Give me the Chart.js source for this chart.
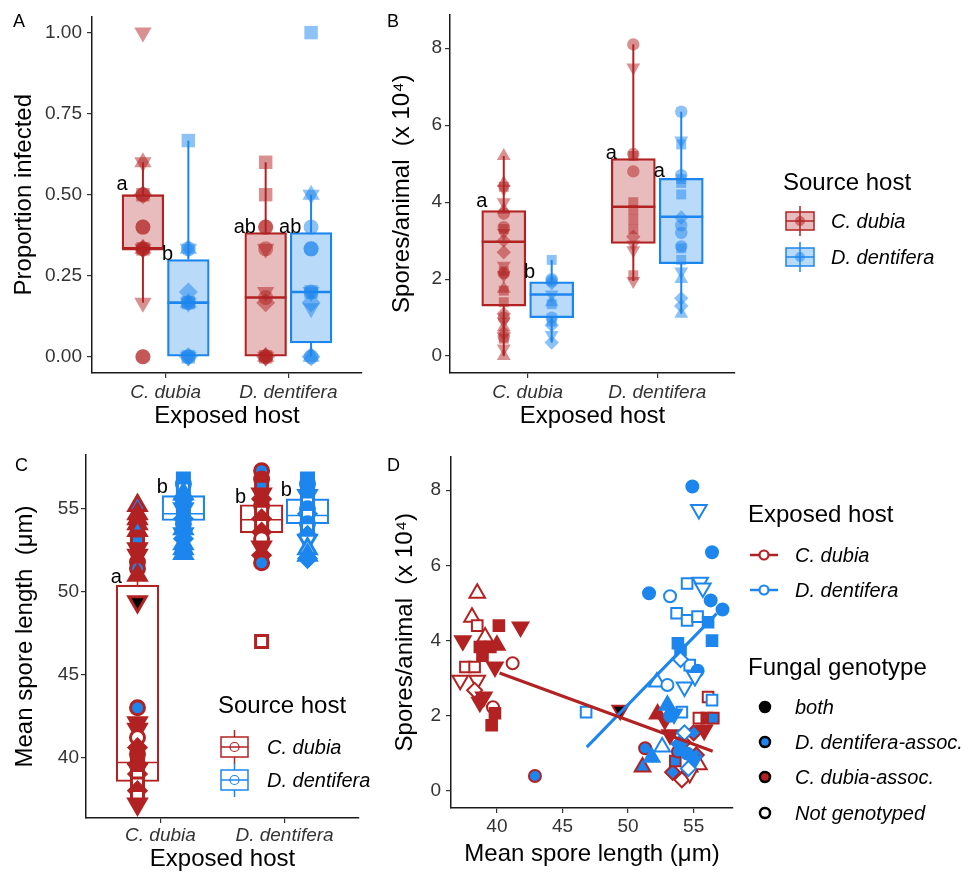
<!DOCTYPE html>
<html><head><meta charset="utf-8">
<script src="https://cdn.jsdelivr.net/npm/chart.js@4.4.1/dist/chart.umd.min.js"></script>
<style>
html,body{margin:0;padding:0;background:#fff;}
#wrap{position:relative;width:968px;height:876px;overflow:hidden;background:#fff;}
canvas{position:absolute;}
#ov{position:absolute;left:0;top:0;pointer-events:none;}
</style></head><body>
<div id="wrap">
<canvas id="cA" width="372" height="440" style="left:0;top:0"></canvas>
<canvas id="cB" width="372" height="440" style="left:372px;top:0"></canvas>
<canvas id="cC" width="372" height="436" style="left:0;top:440px"></canvas>
<canvas id="cD" width="372" height="436" style="left:372px;top:440px"></canvas>
<svg id="ov" width="968" height="876" font-family="Liberation Sans, Arial, Helvetica, sans-serif">
  <text x="13" y="27" font-size="18">A</text>
  <text x="387" y="27" font-size="18">B</text>
  <text x="15" y="471" font-size="18">C</text>
  <text x="387" y="471" font-size="18">D</text>

  <!-- Source host legend (A/B) -->
  <text x="783" y="190" font-size="24">Source host</text>
  <line x1="800" y1="206" x2="800" y2="236" stroke="#B22222" stroke-width="1.5"/>
  <rect x="786" y="212" width="28" height="18" fill="rgba(178,34,34,0.3)" stroke="#B22222" stroke-width="1.5"/>
  <line x1="786" y1="221" x2="814" y2="221" stroke="#B22222" stroke-width="1.5"/>
  <circle cx="800" cy="221" r="5" fill="rgba(178,34,34,0.55)"/>
  <text x="831" y="228" font-size="20" font-style="italic">C. dubia</text>
  <line x1="800" y1="242" x2="800" y2="272" stroke="#1C86EE" stroke-width="1.5"/>
  <rect x="786" y="248" width="28" height="18" fill="rgba(28,134,238,0.3)" stroke="#1C86EE" stroke-width="1.5"/>
  <line x1="786" y1="257" x2="814" y2="257" stroke="#1C86EE" stroke-width="1.5"/>
  <circle cx="800" cy="257" r="5" fill="rgba(28,134,238,0.55)"/>
  <text x="831" y="264" font-size="20" font-style="italic">D. dentifera</text>

  <!-- Source host legend (C) -->
  <text x="218" y="713" font-size="24">Source host</text>
  <line x1="234.5" y1="730" x2="234.5" y2="764" stroke="#B22222" stroke-width="1.5"/>
  <rect x="221" y="737" width="27" height="20" fill="#fff" stroke="#B22222" stroke-width="1.5"/>
  <line x1="221" y1="747" x2="248" y2="747" stroke="#B22222" stroke-width="1.5"/>
  <circle cx="234.5" cy="747" r="4.5" fill="none" stroke="#B22222" stroke-width="1.2"/>
  <text x="267" y="754" font-size="20" font-style="italic">C. dubia</text>
  <line x1="234.5" y1="763" x2="234.5" y2="797" stroke="#1C86EE" stroke-width="1.5"/>
  <rect x="221" y="770" width="27" height="20" fill="#fff" stroke="#1C86EE" stroke-width="1.5"/>
  <line x1="221" y1="780" x2="248" y2="780" stroke="#1C86EE" stroke-width="1.5"/>
  <circle cx="234.5" cy="780" r="4.5" fill="none" stroke="#1C86EE" stroke-width="1.2"/>
  <text x="267" y="787" font-size="20" font-style="italic">D. dentifera</text>

  <!-- Exposed host legend (D) -->
  <text x="748" y="522" font-size="24">Exposed host</text>
  <line x1="750" y1="555" x2="778" y2="555" stroke="#B22222" stroke-width="2.5"/>
  <circle cx="764" cy="555" r="4.5" fill="#fff" stroke="#B22222" stroke-width="2.2"/>
  <text x="795" y="562" font-size="20" font-style="italic">C. dubia</text>
  <line x1="750" y1="590" x2="778" y2="590" stroke="#1C86EE" stroke-width="2.5"/>
  <circle cx="764" cy="590" r="4.5" fill="#fff" stroke="#1C86EE" stroke-width="2.2"/>
  <text x="795" y="597" font-size="20" font-style="italic">D. dentifera</text>

  <!-- Fungal genotype legend (D) -->
  <text x="748" y="675" font-size="24">Fungal genotype</text>
  <circle cx="765" cy="707" r="5" fill="#000" stroke="#000" stroke-width="2.5"/>
  <text x="795" y="714" font-size="20" font-style="italic">both</text>
  <circle cx="765" cy="742" r="5" fill="#1C86EE" stroke="#000" stroke-width="2.5"/>
  <text x="795" y="749" font-size="20" font-style="italic">D. dentifera-assoc.</text>
  <circle cx="765" cy="777" r="5" fill="#B22222" stroke="#000" stroke-width="2.5"/>
  <text x="795" y="784" font-size="20" font-style="italic">C. dubia-assoc.</text>
  <circle cx="765" cy="813" r="5" fill="#fff" stroke="#000" stroke-width="2.5"/>
  <text x="795" y="820" font-size="20" font-style="italic">Not genotyped</text>
</svg>
</div>
<script>
// ================= DATA =================
const exposedHosts = ['C. dubia', 'D. dentifera'];

// Panel A: proportion infected. Box stats [min, q1, median, q3, max] per exposed host
const propBoxSrcCd = [[0.167, 0.333, 0.333, 0.5, 0.6], [0, 0, 0.183, 0.383, 0.6]];
const propBoxSrcDd = [[0, 0, 0.167, 0.3, 0.667], [0, 0.043, 0.2, 0.383, 0.5]];
// points: exposed host / source host
const propCdCd = [1.0, 0.6, 0.6, 0.5, 0.5, 0.5, 0.4, 0.4, 0.333, 0.333, 0.333, 0.333, 0.333, 0.167, 0, 0];
const propCdCdShape = ['v','t','v','c','s','d','c','c','s','c','d','v','t','v','c','c'];
const propCdDd = [0.667, 0.333, 0.333, 0.333, 0.2, 0.167, 0.167, 0.167, 0.167, 0, 0, 0, 0];
const propCdDdShape = ['s','v','c','t','d','c','s','v','t','c','d','v','s'];
const propDdCd = [0.6, 0.5, 0.4, 0.4, 0.333, 0.333, 0.2, 0.183, 0.167, 0, 0, 0, 0, 0];
const propDdCdShape = ['s','s','c','c','v','c','v','c','d','v','t','c','s','d'];
const propDdDd = [1.0, 0.5, 0.5, 0.4, 0.333, 0.333, 0.2, 0.2, 0.2, 0.167, 0.15, 0, 0, 0];
const propDdDdShape = ['s','t','v','c','c','c','c','s','v','d','v','d','t','c'];
const lettersA = ['a', 'b', 'ab', 'ab'];
const letterYA = [0.53, 0.315, 0.40, 0.40];

// Panel B: spores/animal (x 10^4)
const sporeBoxSrcCd = [[0, 1.3, 2.97, 3.78, 5.2], [1.95, 2.93, 3.88, 5.13, 8.1]];
const sporeBoxSrcDd = [[0.35, 1.0, 1.6, 1.93, 2.5], [1.1, 2.4, 3.62, 4.62, 6.35]];
const sporeCdCd = [5.2, 4.5, 4.4, 4.35, 4.0, 3.8, 3.7, 3.35, 3.3, 3.2, 3.0, 2.7, 2.35, 2.2, 2.15, 2.1, 1.75, 1.7, 1.4, 1.1, 1.0, 0.9, 0.75, 0.6, 0.5, 0.45, 0.2, 0];
const sporeCdCdShape = ['t','t','s','v','v','t','c','c','s','v','d','d','v','s','c','v','t','s','s','d','c','v','t','d','c','s','v','t'];
const sporeCdDd = [2.5, 2.0, 1.95, 1.9, 1.6, 1.4, 1.35, 1.0, 0.9, 0.8, 0.55, 0.35];
const sporeCdDdShape = ['s','c','c','d','v','t','s','c','s','d','v','d'];
const sporeDdCd = [8.1, 7.5, 5.25, 5.2, 4.8, 4.0, 3.8, 3.55, 3.3, 3.1, 2.9, 2.75, 2.1, 1.95];
const sporeDdCdShape = ['c','v','c','s','c','s','s','s','s','d','v','v','s','v'];
const sporeDdDd = [6.35, 5.6, 5.5, 4.7, 4.6, 4.5, 4.2, 3.6, 3.4, 3.2, 2.85, 2.8, 2.5, 2.2, 2.0, 1.5, 1.3, 1.1];
const sporeDdDdShape = ['c','v','s','c','s','s','s','d','c','c','c','s','s','v','t','d','d','t'];
const lettersB = ['a', 'b', 'a', 'a'];
const letterYB = [4.03, 2.17, 5.26, 4.8];

// Panel C: mean spore length (um); genotype: b both, d D.dentifera-assoc, c C.dubia-assoc, n not genotyped
const lenBoxSrcCd = [[37.2, 38.55, 39.7, 50.4, 55.5], [51.75, 53.55, 54.35, 55.25, 57.3]];
const lenBoxSrcDd = [[52.3, 54.3, 54.7, 55.8, 56.8], [52.0, 54.1, 54.6, 55.6, 56.8]];
const lenCdCd = [55.2, 54.7, 54.4, 54.1, 53.7, 53.3, 53.0, 52.6, 52.2, 51.8, 51.4, 51.0, 49.4, 43.0, 42.1, 41.7, 41.2, 40.6, 40.2, 39.9, 39.6, 39.3, 39.0, 38.85, 38.4, 38.0, 37.65, 37.2];
const lenCdCdShape = ['t','t','t','t','t','s','s','v','v','c','c','t','v','c','v','v','c','d','c','s','d','v','d','s','s','d','s','v'];
const lenCdCdGeno  = ['d','c','c','c','d','c','d','c','c','c','d','c','b','d','c','c','n','c','c','c','c','c','c','n','n','c','n','c'];
const lenCdDd = [56.8, 56.5, 56.2, 55.9, 55.6, 55.3, 55.0, 54.7, 54.4, 54.1, 53.8, 53.5, 53.2, 52.9, 52.6, 52.3];
const lenCdDdShape = ['s','c','s','t','d','c','v','s','d','c','t','v','d','t','t','t'];
const lenCdDdGeno  = ['d','d','n','d','d','d','d','d','d','d','d','d','d','d','d','d'];
const lenDdCd = [57.3, 56.8, 56.3, 55.9, 55.6, 55.2, 54.8, 54.4, 54.0, 53.6, 53.2, 52.7, 52.2, 51.75, 47.0];
const lenDdCdShape = ['c','c','s','v','d','c','s','d','s','d','c','v','d','c','s'];
const lenDdCdGeno  = ['d','c','d','c','c','c','n','c','n','c','n','c','c','d','n'];
const lenDdDd = [56.8, 56.5, 56.1, 55.8, 55.35, 55.0, 54.7, 54.6, 54.1, 53.8, 53.4, 53.1, 52.6, 52.2, 52.0];
const lenDdDdShape = ['s','c','s','v','s','c','d','s','c','s','d','v','t','t','d'];
const lenDdDdGeno  = ['d','d','d','d','n','d','d','n','d','n','d','n','n','d','d'];
const lettersC = ['a', 'b', 'b', 'b'];
const letterYC = [50.85, 56.3, 55.7, 56.1];

// Panel D: spores vs mean spore length, by exposed host
const dLenCd = [38.5,38.1,38.5,40.15,41.8,37.4,39.1,38.7,39.5,40.0,37.6,38.3,37.2,38.5,39.85,41.2,38.3,38.7,39.7,39.85,39.6,38.9,39.0,42.9,49.4,56.1,52.25,55.4,56.0,56.5,55.8,51.3,51.1,53.4,54.1,54.7,55.2,54.7,53.2,53.6,54.2,55.4,52.8,53.8,55.0];
const dSporeCd = [5.26,4.62,4.4,4.4,4.36,4.0,4.1,3.83,3.83,3.88,3.3,3.3,2.95,2.95,3.3,3.4,2.68,2.36,2.23,2.07,1.75,3.6,2.5,0.4,2.15,2.5,2.05,1.94,1.94,1.94,1.62,1.14,0.64,0.5,0.3,0.64,0.96,0.47,1.5,0.8,1.3,0.7,1.9,1.05,1.55];
const dShapeCd = ['t','t','s','s','v','v','t','s','s','t','s','s','v','v','v','c','d','v','c','s','s','s','v','c','v','s','t','s','s','s','v','c','t','d','d','t','d','v','v','s','d','t','v','c','d'];
const dGenoCd  = ['n','n','n','c','c','c','n','c','c','c','n','n','n','n','c','n','n','c','n','c','c','c','c','d','b','n','c','n','c','d','c','d','d','d','n','c','d','n','c','d','n','n','c','d','d'];
const dLenDd = [54.9,55.4,56.4,54.5,55.5,55.7,51.6,53.2,56.3,57.2,53.7,54.5,55.3,56.1,56.4,53.8,54.0,54.7,55.3,55.1,46.8,52.2,53.0,54.3,54.0,56.4,53.0,54.1,53.2,52.6,51.8,54.3,53.9,54.5,55.0,53.5,54.6];
const dSporeDd = [8.1,7.49,6.35,5.52,5.55,5.4,5.26,5.18,5.07,4.83,4.73,4.54,4.64,4.49,4.0,3.93,3.75,3.35,3.2,3.05,2.1,2.9,2.82,2.77,3.5,2.42,2.28,2.1,2.0,1.17,0.9,1.55,1.25,1.0,0.8,2.05,0.6];
const dShapeDd = ['c','v','c','s','v','v','c','c','c','c','s','s','s','s','s','s','s','s','c','v','s','t','c','v','d','s','t','s','c','t','t','d','d','c','v','v','d'];
const dGenoDd  = ['d','n','d','n','n','n','d','n','d','d','n','n','n','d','d','d','d','n','d','n','n','n','n','n','n','n','d','n','d','n','d','n','d','d','d','d','n'];
// fitted regression lines (endpoints)
const fitCdLen = [40.2, 56.45], fitCdSpore = [3.14, 1.06];
const fitDdLen = [46.85, 56.75], fitDdSpore = [1.17, 4.72];

// tick labels
const ticksA = [0, 0.25, 0.5, 0.75, 1], tickLabelsA = ['0.00','0.25','0.50','0.75','1.00'];
const ticksB = [0, 2, 4, 6, 8], tickLabelsB = ['0','2','4','6','8'];
const ticksC = [40, 45, 50, 55], tickLabelsC = ['40','45','50','55'];
const ticksDx = [40, 45, 50, 55], tickLabelsDx = ['40','45','50','55'];
const ticksDy = [0, 2, 4, 6, 8], tickLabelsDy = ['0','2','4','6','8'];

// ================= STYLE / HELPERS =================
const FONT = "'Liberation Sans', Arial, Helvetica, sans-serif";
const RED = '#B22222', BLUE = '#1C86EE';
function alpha(hex, a){ const n = parseInt(hex.slice(1), 16); return `rgba(${(n>>16)&255},${(n>>8)&255},${n&255},${a})`; }
const GENO_FILL = {b:'#000000', d:BLUE, c:RED, n:'#ffffff'};
const SHAPE_STYLE = {c:'circle', s:'rect', t:'triangle', v:'triangle', d:'rectRot'};
const DODGE = 0.185, BOXW = 0.34;

function seg(x1, y1, x2, y2, color, w, order){
  return {type:'scatter', showLine:true, data:[{x:x1,y:y1},{x:x2,y:y2}], borderColor:color,
    borderWidth:w, pointRadius:0, pointHoverRadius:0, order:order, borderCapStyle:'butt', clip:false};
}
function boxplotDatasets(boxes, offset, color, o){
  const ds = [{type:'bar', data: boxes.map((b,i)=>({x:i+1+offset, y:[b[1], b[3]]})),
    backgroundColor:o.fill, borderColor:color, borderWidth:o.boxLw, borderSkipped:false,
    barThickness:o.barPx, grouped:false, order:3}];
  boxes.forEach((b,i)=>{
    const c = i+1+offset;
    ds.push(seg(c, b[0], c, b[1], color, o.whLw, 4));
    ds.push(seg(c, b[3], c, b[4], color, o.whLw, 4));
    ds.push(seg(c-BOXW/2, b[2], c+BOXW/2, b[2], color, o.medLw, 2));
  });
  return ds;
}
const sizeOf = (sizes, s) => sizes[s === 'v' ? 't' : s];
function pointDataset(xs, ys, shapes, fills, borders, bw, sizes, order){
  return {type:'scatter',
    data: ys.map((y,i)=>({x: Array.isArray(xs) ? xs[i] : xs, y:y})),
    pointStyle: shapes.map(s=>SHAPE_STYLE[s]),
    pointRotation: shapes.map(s=> s==='v' ? 180 : 0),
    pointRadius: shapes.map(s=>sizeOf(sizes, s)),
    pointHoverRadius: shapes.map(s=>sizeOf(sizes, s)),
    pointBackgroundColor: fills,
    pointBorderColor: borders,
    pointBorderWidth: bw,
    order: order, clip:false};
}

const lettersPlugin = {
  id:'letters',
  afterDatasetsDraw(chart, args, opts){
    const items = (opts && opts.items) || [];
    const {ctx} = chart; const xs = chart.scales.x, ys = chart.scales.y;
    ctx.save();
    ctx.font = '20px ' + FONT; ctx.fillStyle = '#000';
    ctx.textAlign = 'center'; ctx.textBaseline = 'middle';
    items.forEach(it => ctx.fillText(it.text, xs.getPixelForValue(it.x), ys.getPixelForValue(it.y)));
    ctx.restore();
  }
};

function axis(o){
  return {
    type:'linear', min:o.min, max:o.max, offset:false, beginAtZero:false,
    afterFit: s => { if (s.isHorizontal()) s.height = o.size; else s.width = o.size; },
    afterBuildTicks: s => { s.ticks = o.ticks.map(v => ({value:v})); },
    ticks:{ callback:(v,i)=>o.labels[i], autoSkip:false, maxRotation:0, minRotation:0,
      font:{family:FONT, size:19, style:o.italic ? 'italic' : 'normal'}, color:'#333', padding:o.tickPad },
    grid:{display:true, offset:false, drawOnChartArea:false, drawTicks:true, tickLength:5, color:'#333', lineWidth:1.2},
    border:{display:true, color:'#1a1a1a', width:1.5},
    title:{display:true, text:o.title, font:{family:FONT, size:24}, color:'#000', padding:o.titlePad}
  };
}
function letterItems(texts, ys){
  const xs = [1-DODGE-BOXW/2, 1+DODGE-BOXW/2, 2-DODGE-BOXW/2, 2+DODGE-BOXW/2];
  return texts.map((t,i)=>({text:t, x:xs[i], y:ys[i]}));
}
function makeChart(id, geom, xAx, yAx, datasets, letters){
  return new Chart(document.getElementById(id), {
    type:'scatter',
    data:{datasets},
    options:{
      responsive:false, animation:false, events:[],
      layout:{padding:{left:0, top:geom.padTop, right:geom.padRight, bottom:0}},
      plugins:{legend:{display:false}, tooltip:{enabled:false}, letters:{items:letters}},
      scales:{x:xAx, y:yAx}
    },
    plugins:[lettersPlugin]
  });
}
const catX = (title, size, tickPad, titlePad) => axis({min:0.4, max:2.6, ticks:[1,2], labels:exposedHosts, italic:true,
  title, size, tickPad, titlePad:{top:0, bottom:titlePad}});

// ================= PANEL A =================
(function(){
  const plotW = 270, barPx = BOXW*plotW/2.2;
  const sz = {c:7.5, s:9.5, t:10, d:9.5};
  const bo = {boxLw:1.6, whLw:2, medLw:2.6, barPx};
  let ds = [];
  ds = ds.concat(boxplotDatasets(propBoxSrcCd, -DODGE, RED, Object.assign({fill:alpha(RED,0.3)}, bo)));
  ds = ds.concat(boxplotDatasets(propBoxSrcDd, DODGE, BLUE, Object.assign({fill:alpha(BLUE,0.3)}, bo)));
  ds.push(pointDataset(1-DODGE, propCdCd, propCdCdShape, alpha(RED,0.5), RED, 0, sz, 1));
  ds.push(pointDataset(1+DODGE, propCdDd, propCdDdShape, alpha(BLUE,0.5), BLUE, 0, sz, 1));
  ds.push(pointDataset(2-DODGE, propDdCd, propDdCdShape, alpha(RED,0.5), RED, 0, sz, 1));
  ds.push(pointDataset(2+DODGE, propDdDd, propDdDdShape, alpha(BLUE,0.5), BLUE, 0, sz, 1));
  makeChart('cA', {padTop:12, padRight:10},
    catX('Exposed host', 67, 3, 9),
    axis({min:-0.05, max:1.05, ticks:ticksA, labels:tickLabelsA, title:'Proportion infected', size:92, tickPad:5, titlePad:{top:10, bottom:0}}),
    ds, letterItems(lettersA, letterYA));
})();

// ================= PANEL B =================
(function(){
  const plotW = 285, barPx = BOXW*plotW/2.2;
  const sz = {c:6.2, s:7, t:8, d:7.2};
  const bo = {boxLw:1.6, whLw:2, medLw:2.6, barPx};
  let ds = [];
  ds = ds.concat(boxplotDatasets(sporeBoxSrcCd, -DODGE, RED, Object.assign({fill:alpha(RED,0.3)}, bo)));
  ds = ds.concat(boxplotDatasets(sporeBoxSrcDd, DODGE, BLUE, Object.assign({fill:alpha(BLUE,0.3)}, bo)));
  ds.push(pointDataset(1-DODGE, sporeCdCd, sporeCdCdShape, alpha(RED,0.5), RED, 0, sz, 1));
  ds.push(pointDataset(1+DODGE, sporeCdDd, sporeCdDdShape, alpha(BLUE,0.5), BLUE, 0, sz, 1));
  ds.push(pointDataset(2-DODGE, sporeDdCd, sporeDdCdShape, alpha(RED,0.5), RED, 0, sz, 1));
  ds.push(pointDataset(2+DODGE, sporeDdDd, sporeDdDdShape, alpha(BLUE,0.5), BLUE, 0, sz, 1));
  makeChart('cB', {padTop:12, padRight:9},
    catX('Exposed host', 67, 3, 9),
    axis({min:-0.44, max:8.88, ticks:ticksB, labels:tickLabelsB, title:'Spores/animal  (x 10\u2074)', size:78, tickPad:3, titlePad:{top:16, bottom:0}}),
    ds, letterItems(lettersB, letterYB));
})();

// ================= PANEL C =================
(function(){
  const plotW = 276, barPx = BOXW*plotW/2.2;
  const sz = {c:7, s:8.5, t:10, d:8.5};
  const bo = {boxLw:1.5, whLw:1.5, medLw:1.5, barPx};
  const g = arr => arr.map(k=>GENO_FILL[k]);
  let ds = [];
  ds = ds.concat(boxplotDatasets(lenBoxSrcCd, -DODGE, RED, Object.assign({fill:'rgba(255,255,255,0)'}, bo)));
  ds = ds.concat(boxplotDatasets(lenBoxSrcDd, DODGE, BLUE, Object.assign({fill:'rgba(255,255,255,0)'}, bo)));
  ds.push(pointDataset(1-DODGE, lenCdCd, lenCdCdShape, g(lenCdCdGeno), RED, 3, sz, 1));
  ds.push(pointDataset(1+DODGE, lenCdDd, lenCdDdShape, g(lenCdDdGeno), BLUE, 3, sz, 1));
  ds.push(pointDataset(2-DODGE, lenDdCd, lenDdCdShape, g(lenDdCdGeno), RED, 3, sz, 1));
  ds.push(pointDataset(2+DODGE, lenDdDd, lenDdDdShape, g(lenDdDdGeno), BLUE, 3, sz, 1));
  makeChart('cC', {padTop:15, padRight:10},
    catX('Exposed host', 58, 1, 2),
    axis({min:36.35, max:58.25, ticks:ticksC, labels:tickLabelsC, title:'Mean spore length  (\u03bcm)', size:86, tickPad:2, titlePad:{top:11, bottom:0}}),
    ds, letterItems(lettersC, letterYC));
})();

// ================= PANEL D =================
(function(){
  const sz = {c:6, s:7.5, t:9, d:7.5};
  const g = arr => arr.map(k=>GENO_FILL[k]);
  const ds = [];
  ds.push(pointDataset(dLenCd, dSporeCd, dShapeCd, g(dGenoCd), RED, 2, sz, 2));
  ds.push(pointDataset(dLenDd, dSporeDd, dShapeDd, g(dGenoDd), BLUE, 2, sz, 1));
  ds.push(seg(fitCdLen[0], fitCdSpore[0], fitCdLen[1], fitCdSpore[1], RED, 3, 0));
  ds.push(seg(fitDdLen[0], fitDdSpore[0], fitDdLen[1], fitDdSpore[1], BLUE, 3, 0));
  makeChart('cD', {padTop:15, padRight:11},
    axis({min:36.5, max:58.0, ticks:ticksDx, labels:tickLabelsDx, title:'Mean spore length (\u03bcm)', size:68, tickPad:2, titlePad:{top:0, bottom:7}}),
    axis({min:-0.45, max:8.9, ticks:ticksDy, labels:tickLabelsDy, title:'Spores/animal  (x 10\u2074)', size:79, tickPad:5, titlePad:{top:19, bottom:0}}),
    ds, []);
})();
</script>
</body></html>
